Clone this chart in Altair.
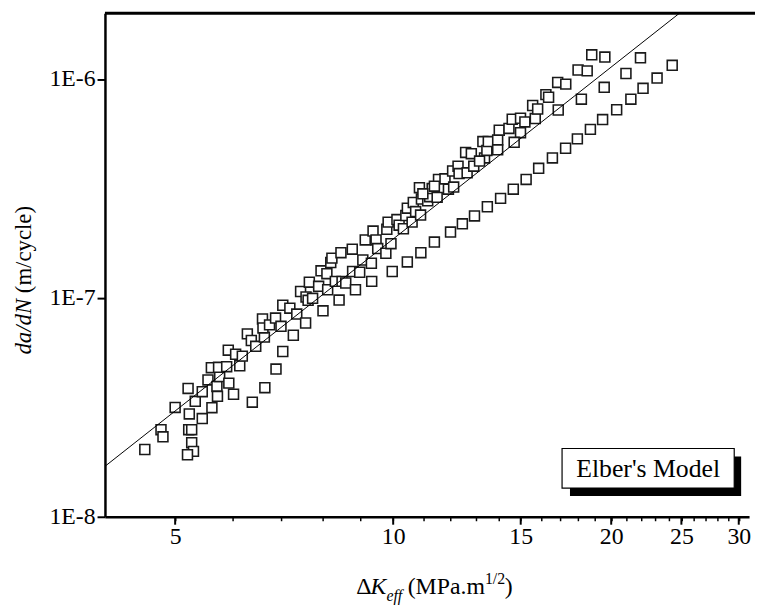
import altair as alt
import pandas as pd

# ---- data ----
dk = [4.54, 4.78, 4.81, 5.00, 5.21, 5.23, 5.22, 5.27, 5.27, 5.30, 5.20, 5.33, 5.45, 5.45, 5.55,
      5.62, 5.61, 5.71, 5.72, 5.76, 5.74, 5.89, 5.93, 5.92, 6.02, 6.06, 6.14, 6.19, 6.39, 6.65,
      6.89, 7.04, 6.29, 6.37, 6.46, 6.64, 7.28, 6.60, 6.61, 6.75, 6.88, 7.00, 7.04, 7.20, 7.36,
      7.45, 7.57, 7.58, 7.63, 7.66, 7.74, 7.89, 7.95, 8.00, 8.10, 8.12, 8.20, 8.23, 8.32, 8.42,
      8.47, 8.50, 8.60, 8.78, 8.79, 8.87, 8.99, 9.08, 9.15, 9.33, 9.34, 9.38, 9.47, 9.52, 9.77,
      9.80, 9.84, 9.93, 9.97, 10.12, 10.19, 10.33, 10.41, 10.46, 10.46, 10.62, 10.66, 10.74, 10.87,
      10.91, 10.94, 10.92, 11.16, 11.23, 11.32, 11.40, 11.55, 11.63, 11.79, 11.92, 12.00, 12.08,
      12.29, 12.33, 12.46, 12.59, 12.65, 12.82, 12.92, 12.95, 13.30, 13.37, 13.47, 13.49, 13.53,
      13.94, 13.94, 14.01, 14.07, 14.45, 14.65, 14.60, 14.99, 15.20, 15.71, 14.99, 14.69, 18.80,
      19.60, 18.00, 18.53, 20.96, 16.87, 17.31, 19.56, 16.25, 16.39, 18.19, 15.58, 15.83, 16.90,
      20.35, 21.29, 22.13, 23.14, 24.28, 21.95, 19.46, 18.72, 17.96, 17.30, 16.59, 15.88, 15.26,
      11.50, 13.16, 10.99, 11.40, 12.12]
dadn = [2.03e-8, 2.50e-8, 2.32e-8, 3.16e-8, 3.86e-8, 2.95e-8, 2.50e-8, 2.50e-8, 2.18e-8, 1.99e-8,
        1.92e-8, 3.37e-8, 3.73e-8, 2.81e-8, 4.22e-8, 3.15e-8, 4.80e-8, 3.94e-8, 3.55e-8, 4.37e-8,
        4.82e-8, 4.85e-8, 4.08e-8, 5.77e-8, 3.63e-8, 5.53e-8, 4.90e-8, 5.42e-8, 3.34e-8, 3.89e-8,
        4.73e-8, 5.69e-8, 6.85e-8, 6.39e-8, 6.01e-8, 6.62e-8, 6.75e-8, 8.01e-8, 7.29e-8, 7.53e-8,
        8.09e-8, 7.42e-8, 9.26e-8, 8.98e-8, 8.44e-8, 1.07e-7, 7.68e-8, 1.01e-7, 9.75e-8, 1.18e-7,
        9.96e-8, 1.13e-7, 1.33e-7, 8.73e-8, 1.29e-7, 1.09e-7, 1.45e-7, 1.52e-7, 1.19e-7, 9.78e-8,
        1.61e-7, 1.19e-7, 1.17e-7, 1.67e-7, 1.32e-7, 1.09e-7, 1.31e-7, 1.49e-7, 1.84e-7, 1.44e-7,
        1.19e-7, 2.02e-7, 1.84e-7, 1.68e-7, 1.60e-7, 2.06e-7, 2.22e-7, 1.77e-7, 1.32e-7, 2.28e-7,
        2.15e-7, 2.07e-7, 2.38e-7, 2.57e-7, 1.46e-7, 2.22e-7, 2.73e-7, 2.48e-7, 3.19e-7, 2.39e-7,
        2.83e-7, 1.61e-7, 2.78e-7, 2.90e-7, 3.16e-7, 1.80e-7, 3.48e-7, 3.16e-7, 3.50e-7, 3.14e-7,
        2.00e-7, 3.80e-7, 4.00e-7, 3.70e-7, 2.18e-7, 4.62e-7, 3.73e-7, 4.56e-7, 4.00e-7, 2.37e-7,
        5.18e-7, 4.36e-7, 4.72e-7, 2.61e-7, 5.18e-7, 5.27e-7, 4.75e-7, 5.84e-7, 2.85e-7, 5.95e-7,
        3.14e-7, 6.55e-7, 6.62e-7, 6.37e-7, 6.60e-7, 5.69e-7, 5.14e-7, 1.29e-6, 1.26e-6, 1.10e-6,
        1.09e-6, 1.06e-6, 9.65e-7, 9.48e-7, 9.17e-7, 8.49e-7, 8.26e-7, 8.09e-7, 7.57e-7, 7.30e-7,
        7.22e-7, 7.24e-7, 8.09e-7, 9.07e-7, 1.01e-6, 1.155e-6, 1.25e-6, 6.53e-7, 5.89e-7, 5.33e-7,
        4.83e-7, 4.36e-7, 3.91e-7, 3.48e-7, 2.88e-7, 4.22e-7, 2.99e-7, 3.24e-7, 3.21e-7]

line_dk = [4.0, 24.85]
line_dadn = [1.70e-8, 2.0e-6]

x_ticks = list(range(5, 31))
major_ticks = [5, 10, 15, 20, 25, 30]
y_ticks = [1e-8, 1e-7, 1e-6]
legend_label = "Elber's Model"

# ---- layout ----
W, H = 651, 509
FONT = "Liberation Serif"

xscale = alt.Scale(type="log", domain=[4, 31], nice=False)
yscale = alt.Scale(type="log", domain=[1e-8, 2e-6], nice=False)

x_axis = alt.Axis(values=x_ticks, format="d",
                  labelExpr="datum.value % 5 === 0 ? datum.label : ''",
                  tickSize=4, tickWidth=1.5, tickColor="black",
                  domainWidth=2.5, domainColor="black",
                  labelFont=FONT, labelFontSize=24, labelColor="black",
                  labelPadding=4, labelOverlap=False, labelFlush=False,
                  grid=False, title=None)
y_axis = alt.Axis(values=y_ticks,
                  labelExpr="'1E' + round(log(datum.value) / LN10)",
                  tickSize=8, tickWidth=2, tickColor="black",
                  domainWidth=2.5, domainColor="black",
                  labelFont=FONT, labelFontSize=24, labelColor="black",
                  labelPadding=2, labelOverlap=False, labelFlush=False,
                  grid=False, title=None)

pts_df = pd.DataFrame({"dk": dk, "dadn": dadn})
line_df = pd.DataFrame({"dk": line_dk, "dadn": line_dadn})
one = pd.DataFrame({"a": [0]})

points = alt.Chart(pts_df).mark_point(
    shape="square", filled=True, fill="white", stroke="#1a1a1a",
    strokeWidth=1.6, size=100, opacity=1
).encode(
    x=alt.X("dk:Q", scale=xscale, axis=x_axis),
    y=alt.Y("dadn:Q", scale=yscale, axis=y_axis),
)

fit = alt.Chart(line_df).mark_line(color="black", strokeWidth=1, clip=True).encode(
    x=alt.X("dk:Q", scale=xscale),
    y=alt.Y("dadn:Q", scale=yscale),
)

major = alt.Chart(pd.DataFrame({"t": major_ticks})).mark_rule(
    color="black", strokeWidth=2
).encode(x=alt.X("t:Q", scale=xscale), y=alt.value(H), y2=alt.value(H + 8))

top_border = alt.Chart(one).mark_rule(color="black", strokeWidth=3).encode(
    x=alt.value(0), x2=alt.value(W + 6), y=alt.value(0)
)

shadow = alt.Chart(one).mark_rect(color="black").encode(
    x=alt.value(470), x2=alt.value(643), y=alt.value(448), y2=alt.value(488)
)
box = alt.Chart(one).mark_rect(fill="white", stroke="black", strokeWidth=1.2).encode(
    x=alt.value(462), x2=alt.value(636), y=alt.value(440), y2=alt.value(480)
)
box_text = alt.Chart(one).mark_text(
    text=legend_label, font=FONT, fontSize=26, color="black",
    align="center", baseline="middle"
).encode(x=alt.value(549), y=alt.value(461))


def txt(s, x, y, size, style="normal", angle=0, baseline="alphabetic"):
    return alt.Chart(one).mark_text(
        text=s, font=FONT, fontSize=size, fontStyle=style, color="black",
        align="left", baseline=baseline, angle=angle
    ).encode(x=alt.value(x), y=alt.value(y))


y_title = [
    txt("da/dN", -82, 345, 23, "italic", 270, "middle"),
    txt("(m/cycle)", -82, 283, 23, "normal", 270, "middle"),
]
x_title = [
    txt("\u0394", 254, 587, 24),
    txt("K", 268.5, 587, 24, "italic"),
    txt("eff", 284.5, 594, 16, "italic"),
    txt("(MPa.m", 306, 587, 24),
    txt("1/2", 384, 577, 16),
    txt(")", 404, 587, 24),
]

chart = alt.layer(
    points, fit, top_border, major, shadow, box, box_text, *y_title, *x_title
).properties(
    width=W, height=H,
    autosize=alt.AutoSizeParams(type="none"),
    padding={"left": 98, "top": 2, "right": 6, "bottom": 92},
    background="white",
).configure_view(stroke=None)

chart.save("out.html", embed_options={"renderer": "svg", "actions": False})
